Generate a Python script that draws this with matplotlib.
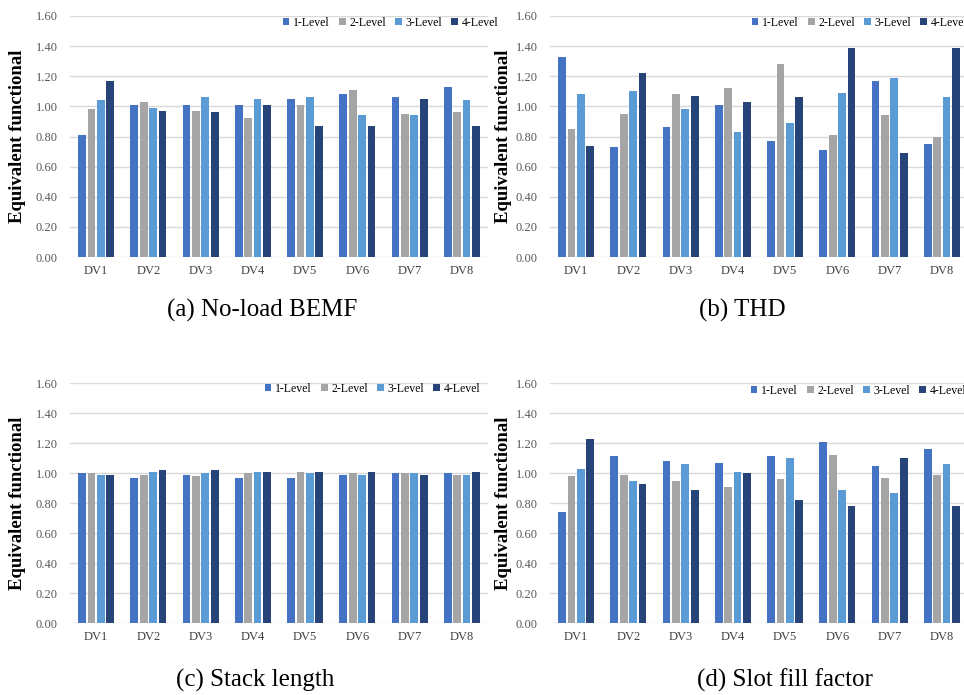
"""
Equivalent functional of each design variable (DV1-DV8) at four levels,
for four responses: no-load BEMF, THD, stack length and slot fill factor.
Output: out.png
"""
import numpy as np
import matplotlib
matplotlib.use("Agg")
import matplotlib.pyplot as plt

plt.rcParams["font.family"] = ["Liberation Serif", "DejaVu Serif"]

categories = ["DV1", "DV2", "DV3", "DV4", "DV5", "DV6", "DV7", "DV8"]
levels = ["1-Level", "2-Level", "3-Level", "4-Level"]
colors = ["#4472C4", "#A5A5A5", "#5B9BD5", "#264478"]

# one row per level, one value per design variable
bemf = [
    [0.81, 1.01, 1.01, 1.01, 1.05, 1.08, 1.06, 1.13],
    [0.98, 1.03, 0.97, 0.92, 1.01, 1.11, 0.95, 0.96],
    [1.04, 0.99, 1.06, 1.05, 1.06, 0.94, 0.94, 1.04],
    [1.17, 0.97, 0.96, 1.01, 0.87, 0.87, 1.05, 0.87],
]
thd = [
    [1.33, 0.73, 0.86, 1.01, 0.77, 0.71, 1.17, 0.75],
    [0.85, 0.95, 1.08, 1.12, 1.28, 0.81, 0.94, 0.80],
    [1.08, 1.10, 0.98, 0.83, 0.89, 1.09, 1.19, 1.06],
    [0.74, 1.22, 1.07, 1.03, 1.06, 1.39, 0.69, 1.39],
]
stack = [
    [1.00, 0.97, 0.99, 0.97, 0.97, 0.99, 1.00, 1.00],
    [1.00, 0.99, 0.98, 1.00, 1.01, 1.00, 1.00, 0.99],
    [0.99, 1.01, 1.00, 1.01, 1.00, 0.99, 1.00, 0.99],
    [0.99, 1.02, 1.02, 1.01, 1.01, 1.01, 0.99, 1.01],
]
slot = [
    [0.74, 1.11, 1.08, 1.07, 1.11, 1.21, 1.05, 1.16],
    [0.98, 0.99, 0.95, 0.91, 0.96, 1.12, 0.97, 0.99],
    [1.03, 0.95, 1.06, 1.01, 1.10, 0.89, 0.87, 1.06],
    [1.23, 0.93, 0.89, 1.00, 0.82, 0.78, 1.10, 0.78],
]
titles = ["(a) No-load BEMF", "(b) THD", "(c) Stack length", "(d) Slot fill factor"]

W, H = 964, 695
# panel layout in pixels: (axes left, axes top, axes bottom, legend x, legend y,
#                          ylabel x, title x, title y)
panels = [
    (bemf, 70, 16, 257, 283, 23, 18, 262, 310),
    (thd, 550, 16, 257, 752, 23, 503, 742, 310),
    (stack, 70, 383, 623, 265, 389, 18, 255, 680),
    (slot, 550, 383, 623, 751, 391, 503, 785, 680),
]
ax_w = 418

fig = plt.figure(figsize=(W / 100, H / 100), dpi=100)
x = np.arange(len(categories))
step, bw = 0.181, 0.148

for (vals, left, top, bottom, lx, ly, ylx, tx, ty), title in zip(panels, titles):
    ax = fig.add_axes([left / W, 1 - bottom / H, ax_w / W, (bottom - top) / H])
    for i, (lev, col) in enumerate(zip(levels, colors)):
        ax.bar(x + (i - 1.5) * step, vals[i], bw, color=col, label=lev, zorder=3)
    ax.set_xlim(-0.5, len(categories) - 0.5)
    ax.set_ylim(0, 1.6)
    ax.set_yticks(np.arange(0, 1.61, 0.2))
    ax.set_yticklabels([f"{v:.2f}" for v in np.arange(0, 1.61, 0.2)])
    ax.set_xticks(x)
    ax.set_xticklabels(categories)
    ax.tick_params(axis="y", length=0, pad=9, labelsize=9, colors="#595959")
    ax.tick_params(axis="x", length=0, pad=6, labelsize=9, colors="#404040")
    ax.grid(axis="y", color="#D9D9D9", linewidth=1, zorder=0)
    for s in ax.spines.values():
        s.set_visible(False)
    ax.legend(loc="center left", bbox_to_anchor=(lx / W, 1 - ly / H),
              bbox_transform=fig.transFigure, ncol=4, frameon=False,
              fontsize=8.5, handlelength=0.55, handleheight=0.55,
              handletextpad=0.3, columnspacing=0.8, borderpad=0,
              borderaxespad=0)
    fig.text(ylx / W, 1 - (top + bottom) / 2 / H, "Equivalent functional",
             rotation=90, ha="center", va="center", fontsize=13.5,
             fontweight="bold")
    fig.text(tx / W, 1 - ty / H, title, ha="center", va="center", fontsize=18)

fig.savefig("out.png", dpi=100)
